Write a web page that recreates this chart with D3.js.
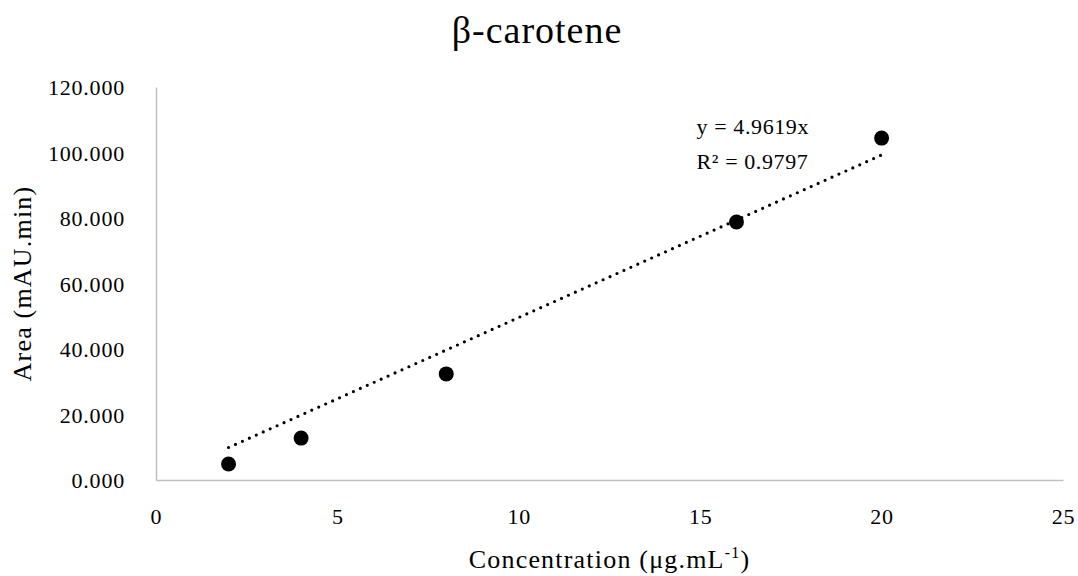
<!DOCTYPE html>
<html>
<head>
<meta charset="utf-8">
<script src="https://cdn.jsdelivr.net/npm/d3@7"></script>
<style>
  body { margin: 0; background: #fff; }
  svg text { font-family: "Liberation Serif", "DejaVu Serif", serif; fill: #000; }
</style>
</head>
<body>
<script>
// data
const concentrations = [2, 4, 8, 16, 20];
const areas = [4.9, 12.8, 32.4, 78.8, 104.4];
const slope = 4.9619;
const xTicks = [0, 5, 10, 15, 20, 25];
const yTicks = [0, 20, 40, 60, 80, 100, 120];

// dimensions
const dms = {
    width: 1078,
    height: 576,
    margins: { top: 87, right: 15, bottom: 96, left: 156 }
};
dms.innerWidth = dms.width - dms.margins.left - dms.margins.right;
dms.innerHeight = dms.height - dms.margins.top - dms.margins.bottom;

const svg = d3.select("body")
    .append("svg")
    .attr("width", dms.width)
    .attr("height", dms.height);

const g = svg.append("g")
    .attr("transform", `translate(${dms.margins.left},${dms.margins.top})`);

// scales
const xScale = d3.scaleLinear().domain([0, 25]).range([0, dms.innerWidth]);
const yScale = d3.scaleLinear().domain([0, 120]).range([dms.innerHeight, 0]);

// axes
const xAxis = g.append("g")
    .attr("transform", `translate(0,${dms.innerHeight})`)
    .call(d3.axisBottom(xScale).tickValues(xTicks).tickSize(0).tickPadding(28).tickFormat(d3.format("d")));
const yAxis = g.append("g")
    .call(d3.axisLeft(yScale).tickValues(yTicks).tickSize(0).tickPadding(31).tickFormat(d3.format(".3f")));

[xAxis, yAxis].forEach(a => {
    a.attr("font-family", null).attr("font-size", null);
    a.select(".domain").attr("stroke", "#bfbfbf").attr("stroke-width", 1.5);
    a.selectAll("text")
        .attr("font-size", 22)
        .style("font-family", "'Liberation Serif', serif")
        .style("letter-spacing", "0.8px");
});
yAxis.selectAll("text").attr("dy", "0.35em");

// trendline
const trend = [2, 20].map(x => [x, slope * x]);
g.append("path")
    .datum(trend)
    .attr("d", d3.line().x(d => xScale(d[0])).y(d => yScale(d[1])))
    .attr("fill", "none")
    .attr("stroke", "#000")
    .attr("stroke-width", 3.2)
    .attr("stroke-linecap", "round")
    .attr("stroke-dasharray", "0 7.6");

// points
g.selectAll("circle")
    .data(concentrations)
    .enter()
    .append("circle")
    .attr("cx", d => xScale(d))
    .attr("cy", (d, i) => yScale(areas[i]))
    .attr("r", 7.5)
    .attr("fill", "#000");

// equation
const eq = g.append("text")
    .attr("x", xScale(14.9))
    .attr("y", yScale(105.8))
    .attr("font-size", 22)
    .style("letter-spacing", "0.6px");
eq.append("tspan").attr("x", xScale(14.9)).text("y = 4.9619x");
eq.append("tspan").attr("x", xScale(14.9)).attr("dy", 35).text("R² = 0.9797");

// title
svg.append("text")
    .attr("x", 537)
    .attr("y", 43)
    .attr("text-anchor", "middle")
    .attr("font-size", 38)
    .style("letter-spacing", "1px")
    .text("β-carotene");

// axis titles
const xTitle = svg.append("text")
    .attr("x", dms.margins.left + dms.innerWidth / 2)
    .attr("y", 568)
    .attr("text-anchor", "middle")
    .attr("font-size", 26)
    .style("letter-spacing", "1.2px");
xTitle.append("tspan").text("Concentration (μg.mL");
xTitle.append("tspan").attr("font-size", 16).attr("dy", -10).text("-1");
xTitle.append("tspan").attr("dy", 10).text(")");

svg.append("text")
    .attr("transform", `translate(31,${dms.margins.top + dms.innerHeight / 2}) rotate(-90)`)
    .attr("text-anchor", "middle")
    .attr("font-size", 26)
    .style("letter-spacing", "1.2px")
    .text("Area (mAU.min)");
</script>
</body>
</html>
